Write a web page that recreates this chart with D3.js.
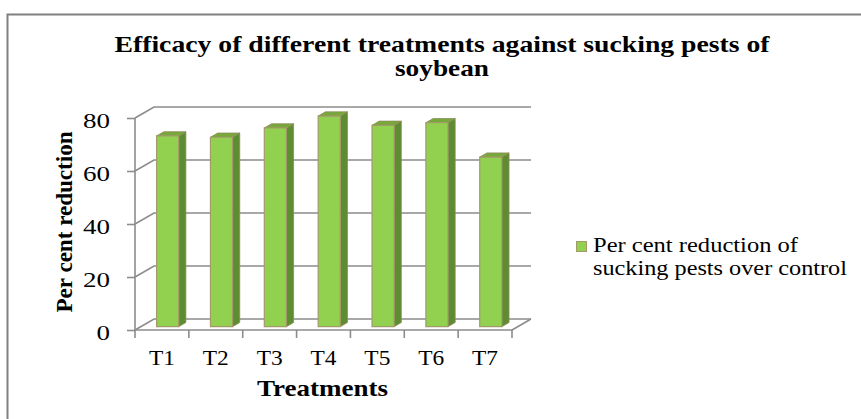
<!DOCTYPE html>
<html><head><meta charset="utf-8">
<script src="https://cdn.jsdelivr.net/npm/d3@7"></script>
<style>html,body{margin:0;padding:0;background:#fff;}svg{display:block;}</style>
</head><body>
<svg id="chart" width="861" height="419"></svg>
<script>
const categories = ["T1", "T2", "T3", "T4", "T5", "T6", "T7"];
const values = [72, 71.5, 75, 79.5, 76, 77, 64];
const yTicks = [0, 20, 40, 60, 80];
const titleLines = ["Efficacy of different treatments against sucking pests of", "soybean"];
const yTitle = "Per cent reduction";
const xTitle = "Treatments";
const legendLines = ["Per cent reduction of", "sucking pests over control"];

const svg = d3.select("#chart");
const font = "'Liberation Serif','Times New Roman',serif";

function fitWidth(sel, w) {
  sel.attr("textLength", w).attr("lengthAdjust", "spacingAndGlyphs");
}

// frame border
svg.append("path").attr("d", "M7.5,419 L7.5,14.5 L861,14.5")
  .attr("fill", "none").attr("stroke", "#808080").attr("stroke-width", 2);

// front plane scales
const x = d3.scaleBand().domain(categories).range([135, 512]);
const y = d3.scaleLinear().domain([0, 80]).range([330, 118]);
const DX = 19, DY = -11;
const P = (px, v, f) => [px + f * DX, y(v) + f * DY];

const grid = "#8c8c8c";
const g = svg.append("g");

yTicks.forEach(t => {
  const a = P(135, t, 0), b = P(135, t, 1), c = P(512, t, 1);
  g.append("polyline").attr("points", [a, b, c].map(p => p.join(",")).join(" "))
    .attr("fill", "none").attr("stroke", grid).attr("stroke-width", 1.6);
});
{
  const a = P(512, 0, 0), b = P(512, 0, 1);
  g.append("line").attr("x1", a[0]).attr("y1", a[1]).attr("x2", b[0]).attr("y2", b[1])
    .attr("stroke", grid).attr("stroke-width", 1.6);
}

// bars
const f0 = 0.3, f1 = 0.68;
const bw = x.bandwidth() * 0.41;
const bars = g.selectAll("g.bar").data(categories.map((c, i) => ({ c, v: values[i] }))).join("g");
const poly = pts => pts.map(p => p.join(",")).join(" ");
bars.each(function (d) {
  const sel = d3.select(this);
  const cx = x(d.c) + x.bandwidth() / 2;
  const xl = cx - bw / 2, xr = cx + bw / 2;
  sel.append("polygon").attr("points", poly([P(xr, 0, f0), P(xr, 0, f1), P(xr, d.v, f1), P(xr, d.v, f0)]))
    .attr("fill", "#5e8c30").attr("stroke", "#8f8a5c").attr("stroke-width", 0.8);
  sel.append("polygon").attr("points", poly([P(xl, d.v, f0), P(xr, d.v, f0), P(xr, d.v, f1), P(xl, d.v, f1)]))
    .attr("fill", "#77a83a").attr("stroke", "#8f8a5c").attr("stroke-width", 0.8);
  sel.append("polygon").attr("points", poly([P(xl, 0, f0), P(xr, 0, f0), P(xr, d.v, f0), P(xl, d.v, f0)]))
    .attr("fill", "#92d050").attr("stroke", "#a39a6a").attr("stroke-width", 1.2);
});

// y axis (front)
const yAxis = d3.axisLeft(y).tickValues(yTicks).tickSize(8).tickPadding(17);
const ya = svg.append("g").attr("transform", "translate(135,0)").call(yAxis);
ya.select(".domain").attr("d", `M0,${y(80)}V${y(0)}`).attr("stroke", grid).attr("stroke-width", 1.6);
ya.selectAll(".tick line").attr("stroke", grid).attr("stroke-width", 1.6);
ya.selectAll(".tick text").attr("font-family", font).attr("font-size", 22).attr("fill", "#000")
  .attr("dy", "0.42em").each(function (d) { fitWidth(d3.select(this), String(d).length * 13.5); });

// x axis (front)
const xa = svg.append("g").attr("transform", "translate(0,330)")
  .call(d3.axisBottom(x).tickSize(0).tickPadding(19));
xa.select(".domain").attr("d", "M135,0H512").attr("stroke", grid).attr("stroke-width", 1.6);
xa.selectAll(".tick text").attr("font-family", font).attr("font-size", 22).attr("fill", "#000")
  .attr("dy", "0.71em").call(s => fitWidth(s, 26));
const bounds = categories.map(c => x(c)).concat([x.range()[1]]);
xa.selectAll("line.bt").data(bounds).join("line").attr("class", "bt")
  .attr("x1", d => d).attr("x2", d => d).attr("y1", 0).attr("y2", 8)
  .attr("stroke", grid).attr("stroke-width", 1.6);

// title
const titleW = [655, 94];
svg.append("g").selectAll("text").data(titleLines).join("text")
  .attr("x", 442).attr("y", (d, i) => 52 + i * 23.5)
  .attr("text-anchor", "middle").attr("font-family", font).attr("font-weight", "bold")
  .attr("font-size", 23.5).attr("fill", "#000").text(d => d)
  .each(function (d, i) { fitWidth(d3.select(this), titleW[i]); });

// axis titles
svg.append("text").attr("transform", "translate(72,222) rotate(-90)")
  .attr("text-anchor", "middle").attr("font-family", font).attr("font-weight", "bold")
  .attr("font-size", 24).attr("fill", "#000").text(yTitle).call(s => fitWidth(s, 181));
svg.append("text").attr("x", 322.5).attr("y", 396)
  .attr("text-anchor", "middle").attr("font-family", font).attr("font-weight", "bold")
  .attr("font-size", 24).attr("fill", "#000").text(xTitle).call(s => fitWidth(s, 131));

// legend
const legendW = [205, 254];
svg.append("rect").attr("x", 576.5).attr("y", 241.5).attr("width", 10).attr("height", 10)
  .attr("fill", "#92d050").attr("stroke", "#a39a6a").attr("stroke-width", 1);
svg.append("g").selectAll("text").data(legendLines).join("text")
  .attr("x", 593).attr("y", (d, i) => 252 + i * 23)
  .attr("font-family", font).attr("font-size", 22).attr("fill", "#000").text(d => d)
  .each(function (d, i) { fitWidth(d3.select(this), legendW[i]); });
</script>
</body></html>
